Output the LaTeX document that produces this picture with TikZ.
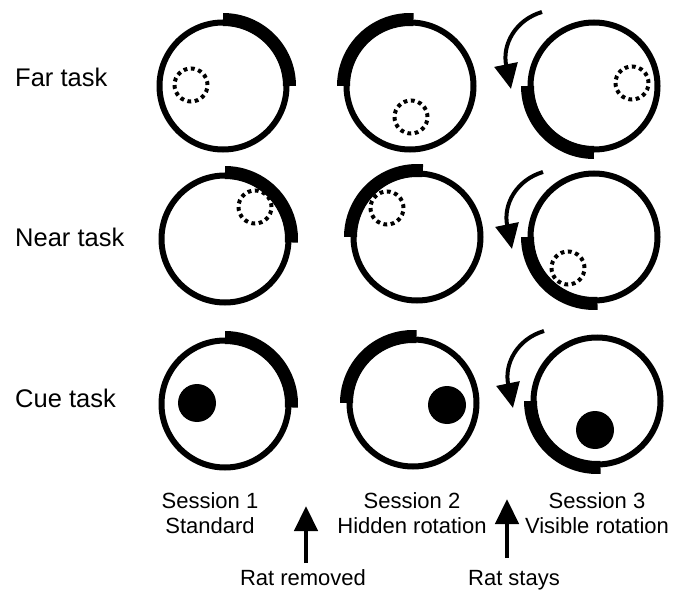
\documentclass[tikz,border=0pt]{standalone}
\usepackage{fontspec}
\setmainfont{Liberation Sans}
\usetikzlibrary{arrows.meta}

% one arena: outer wall plus the thick cue card arc
\newcommand\drawarena[4]{% #1 name, #2 centre, #3 start angle, #4 end angle of the cue card
  \coordinate (#1) at #2;
  \draw[ring] (#1) circle[radius=63.5];
  \draw[cuearc] (#1) ++(#3:66.5) arc[start angle=#3, end angle=#4, radius=66.5];
}

\begin{document}
\begin{tikzpicture}[x=1pt,y=1pt,
  ring/.style={line width=6pt},
  cuearc/.style={line width=13pt},
  hiddengoal/.style={line width=4pt, dash pattern=on 3.8pt off 3.6pt},
  cuedisc/.style={fill=black},
  rot/.style={line width=4pt, -{Triangle[length=25pt,width=23pt]}},
  move/.style={line width=4.5pt, -{Triangle[length=25pt,width=23pt]}},
  rowlab/.style={font=\fontsize{25.5}{30}\selectfont, anchor=base west, inner sep=0pt},
  seslab/.style={font=\fontsize{22}{25}\selectfont, align=center, inner sep=0pt, anchor=base},
]
\useasboundingbox (0,0) rectangle (686,-591);

% row titles
\node[rowlab] (far)  at (15,-87)  {Far task};
\node[rowlab] (near) at (15,-247) {Near task};
\node[rowlab] (cue)  at (15,-407) {Cue task};

% far task
\drawarena{a11}{(223,-86)}{0}{90}
\drawarena{a12}{(410,-86)}{87}{180}
\drawarena{a13}{(594,-86)}{180}{270}
\draw[hiddengoal] (191,-85)  circle[radius=16.5];
\draw[hiddengoal] (411,-117) circle[radius=16.5];
\draw[hiddengoal] (632,-83)  circle[radius=16.5];

% near task
\drawarena{a21}{(225,-239)}{-3}{90}
\drawarena{a22}{(417,-237)}{85}{180}
\drawarena{a23}{(594,-237)}{180}{273}
\draw[hiddengoal] (255,-207) circle[radius=16.5];
\draw[hiddengoal] (387,-208) circle[radius=16.5];
\draw[hiddengoal] (568,-268) circle[radius=16.5];

% cue task
\drawarena{a31}{(225,-404)}{-3}{90}
\drawarena{a32}{(413,-403)}{87}{180}
\drawarena{a33}{(597,-401)}{180}{273}
\fill[cuedisc] (197,-403) circle[radius=19];
\fill[cuedisc] (447,-405) circle[radius=19];
\fill[cuedisc] (595,-430) circle[radius=19];

% visible rotation arrows
\coordinate (r1s) at (542,-12);  \coordinate (r1e) at (511,-89);
\coordinate (r2s) at (543,-172); \coordinate (r2e) at (512,-249);
\coordinate (r3s) at (544,-331); \coordinate (r3e) at (513,-408);
\draw[rot] (r1s) .. controls (515,-20) and (502,-45) .. (r1e);
\draw[rot] (r2s) .. controls (516,-180) and (503,-205) .. (r2e);
\draw[rot] (r3s) .. controls (517,-339) and (504,-364) .. (r3e);

% session captions
\node[seslab] (s1) at (210,-533) {Session 1\\Standard};
\node[seslab] (s2) at (412,-533) {Session 2\\Hidden rotation};
\node[seslab] (s3) at (597,-533) {Session 3\\Visible rotation};

% transitions between sessions
\node[seslab] (rm) at (303,-585) {Rat removed};
\node[seslab] (rs) at (514,-585) {Rat stays};
\coordinate (rmtip) at (306,-506);
\coordinate (rstip) at (507,-499);
\draw[move] (rmtip |- 0,-563) -- (rmtip);
\draw[move] (rstip |- 0,-558) -- (rstip);
\end{tikzpicture}
\end{document}
